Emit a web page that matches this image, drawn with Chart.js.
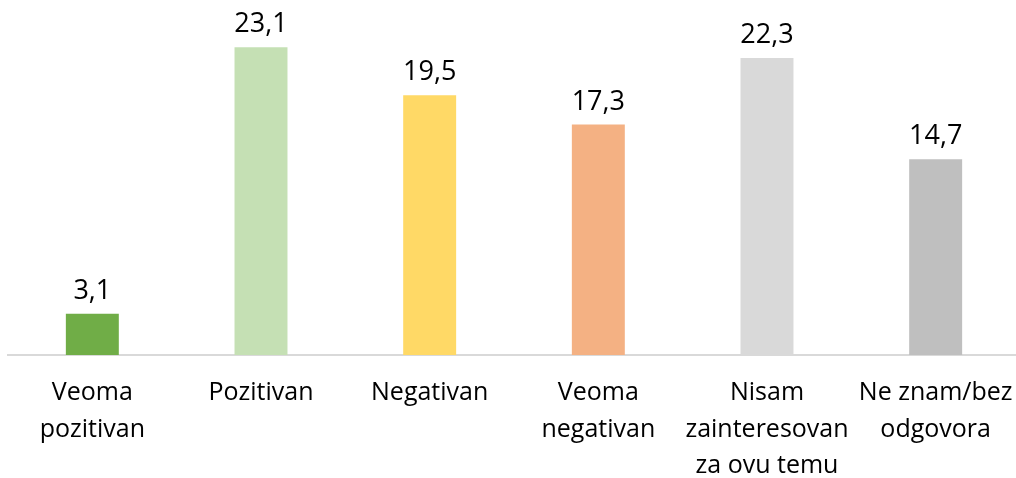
<!DOCTYPE html>
<html>
<head>
<meta charset="utf-8">
<script src="https://cdn.jsdelivr.net/npm/chart.js@4"></script>
<style>
html,body{margin:0;padding:0;background:#fff;overflow:hidden;}
#wrap{width:1020px;height:478px;position:relative;}
</style>
</head>
<body>
<div id="wrap"><canvas id="c"></canvas></div>
<script>
const categories = [["Veoma","pozitivan"],"Pozitivan","Negativan",["Veoma","negativan"],["Nisam","zainteresovan","za ovu temu"],["Ne znam/bez","odgovora"]];
const values = [3.1, 23.1, 19.5, 17.3, 22.3, 14.7];
const barColors = ["#70AD47","#C5E0B4","#FFD966","#F4B183","#D9D9D9","#BFBFBF"];

const valueLabels = {
  id: 'valueLabels',
  afterDatasetsDraw(chart) {
    const ctx = chart.ctx;
    const meta = chart.getDatasetMeta(0);
    ctx.save();
    ctx.font = '27px "Open Sans", sans-serif';
    ctx.fillStyle = '#000';
    ctx.textAlign = 'center';
    ctx.textBaseline = 'alphabetic';
    meta.data.forEach((bar, i) => {
      const txt = values[i].toFixed(1).replace('.', ',');
      ctx.fillText(txt, bar.x, bar.y - 15);
    });
    ctx.restore();
  }
};

new Chart(document.getElementById('c'), {
  type: 'bar',
  data: {
    labels: categories,
    datasets: [{ data: values, backgroundColor: barColors, borderWidth: 0, categoryPercentage: 1, barPercentage: 0.314 }]
  },
  options: {
    responsive: true,
    maintainAspectRatio: false,
    animation: false,
    layout: { padding: { left: 8, right: 0, top: 22, bottom: 0 } },
    plugins: { legend: { display: false }, tooltip: { enabled: false } },
    scales: {
      y: { display: false, min: 0, max: 25 },
      x: {
        grid: { display: false, drawTicks: false },
        border: { display: true, color: '#D9D9D9', width: 2 },
        ticks: { color: '#000', font: { family: '"Open Sans", sans-serif', size: 25, lineHeight: 1.46 }, padding: 20, maxRotation: 0, autoSkip: false },
        afterFit(scale) { scale.height = 123; scale.paddingLeft = 0; scale.paddingRight = 0; }
      }
    }
  },
  plugins: [valueLabels]
});
</script>
</body>
</html>
